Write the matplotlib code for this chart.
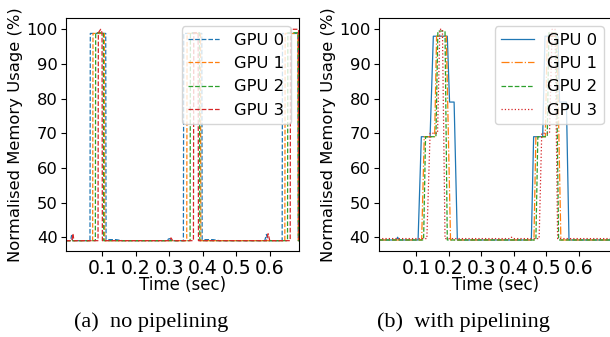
import numpy as np
import matplotlib
matplotlib.use("Agg")
import matplotlib.pyplot as plt

labels = ["GPU 0", "GPU 1", "GPU 2", "GPU 3"]

# (a) no pipelining: time (sec), memory (%)
a_t0 = [-0.009, 0.005, 0.008, 0.011, 0.063, 0.064, 0.110, 0.111, 0.14, 0.16, 0.29, 0.30, 0.31,
        0.342, 0.343, 0.397, 0.398, 0.43, 0.45, 0.585, 0.59, 0.595, 0.637, 0.638, 0.684, 0.685, 0.687]
a_v0 = [39, 39, 40.5, 39, 39, 98.8, 98.8, 39.3, 39.3, 39, 39, 39.6, 39,
        39, 98.8, 98.8, 39.3, 39.3, 39, 39, 40.8, 39, 39, 98.8, 98.8, 39, 39]
a_t1 = [-0.009, 0.071, 0.072, 0.106, 0.107, 0.352, 0.353, 0.393, 0.394, 0.645, 0.646, 0.684, 0.685, 0.687]
a_v1 = [39, 39, 98.8, 98.8, 39, 39, 98.8, 98.8, 39, 39, 98.8, 98.8, 39, 39]
a_t2 = [-0.009, 0.079, 0.080, 0.103, 0.104, 0.362, 0.363, 0.390, 0.391, 0.653, 0.654, 0.685, 0.686, 0.687]
a_v2 = [39, 39, 99, 99, 39, 39, 99, 99, 39, 39, 99, 99, 39, 39]
a_t3 = [-0.009, 0.009, 0.012, 0.015, 0.087, 0.088, 0.095, 0.099, 0.100, 0.30, 0.305, 0.31,
        0.372, 0.373, 0.386, 0.387, 0.59, 0.595, 0.60, 0.661, 0.662, 0.686, 0.687]
a_v3 = [39, 39, 41, 39, 39, 99, 100, 99, 39, 39, 39.8, 39,
        39, 99, 99, 39, 39, 41, 39, 39, 100, 100, 39]

# (b) with pipelining
b_t0 = [-0.016, 0.038, 0.042, 0.046, 0.105, 0.115, 0.142, 0.152, 0.195, 0.202, 0.216, 0.226,
        0.454, 0.461, 0.489, 0.496, 0.536, 0.541, 0.562, 0.570, 0.702]
b_v0 = [39.2, 39.2, 40, 39.2, 39.2, 69, 69, 98, 98, 79, 79, 39.2,
        39.2, 69, 69, 98, 98, 79, 79, 39.2, 39.2]
b_t1 = [-0.016, 0.116, 0.124, 0.156, 0.162, 0.192, 0.205,
        0.462, 0.468, 0.497, 0.503, 0.533, 0.545, 0.702]
b_v1 = [39.2, 39.2, 69, 69, 98, 98, 39.2,
        39.2, 69, 69, 98, 98, 39.2, 39.2]
b_t2 = [-0.016, 0.122, 0.128, 0.160, 0.166, 0.188, 0.195,
        0.468, 0.474, 0.503, 0.508, 0.530, 0.538, 0.702]
b_v2 = [39.2, 39.2, 69, 69, 99.5, 99.5, 39.2,
        39.2, 69, 69, 99, 99, 39.2, 39.2]
b_t3 = [-0.016, 0.132, 0.142, 0.165, 0.172, 0.180, 0.188, 0.388, 0.393, 0.398,
        0.478, 0.486, 0.510, 0.518, 0.527, 0.535, 0.702]
b_v3 = [39.6, 39.6, 70, 70, 100, 100, 39.6, 39.6, 40, 39.6,
        39.6, 70, 70, 100, 100, 39.6, 39.6]

colors = ["#1f77b4", "#ff7f0e", "#2ca02c", "#d62728"]
xticks = [0.1, 0.2, 0.3, 0.4, 0.5, 0.6]
yticks = [40, 50, 60, 70, 80, 90, 100]

fig = plt.figure(figsize=(6.1, 3.37), dpi=100)
ax1 = fig.add_axes([0.108, 0.255, 0.382, 0.691])
ax2 = fig.add_axes([0.621, 0.255, 0.382, 0.691])

a_series = [(a_t0, a_v0), (a_t1, a_v1), (a_t2, a_v2), (a_t3, a_v3)]
for (t, v), c, lab in zip(a_series, colors, labels):
    ax1.plot(t, v, color=c, ls="--", lw=0.9, label=lab)

b_series = [(b_t0, b_v0), (b_t1, b_v1), (b_t2, b_v2), (b_t3, b_v3)]
styles = ["-", "-.", "--", ":"]
for (t, v), c, s, lab in zip(b_series, colors, styles, labels):
    ax2.plot(t, v, color=c, ls=s, lw=0.9, label=lab)

ax1.set_xlim(-0.009, 0.687)
ax2.set_xlim(-0.016, 0.702)
for ax in (ax1, ax2):
    ax.set_ylim(36, 103.2)
    ax.set_xticks(xticks)
    ax.set_yticks(yticks)
    ax.tick_params(axis="x", labelsize=13.5, pad=2)
    ax.tick_params(axis="y", labelsize=11.8, pad=2.5)
    ax.set_xlabel("Time (sec)", fontsize=12, labelpad=-1)
    ax.set_ylabel("Normalised Memory Usage (%)", fontsize=11.8, labelpad=2)
    ax.legend(loc="upper right", fontsize=11.8)

fig.text(151 / 610, 1 - 322 / 337, "(a)  no pipelining", family="Liberation Serif",
         fontsize=16, ha="center", va="center")
fig.text(463 / 610, 1 - 322 / 337, "(b)  with pipelining", family="Liberation Serif",
         fontsize=16, ha="center", va="center")

fig.savefig("out.png", dpi=100)
